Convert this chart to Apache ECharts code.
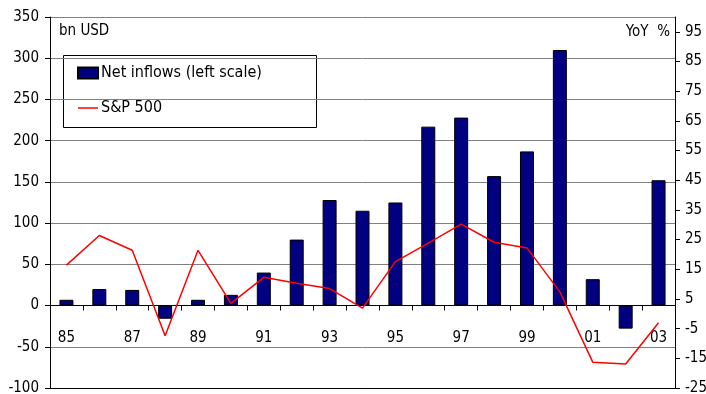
<!DOCTYPE html>
<html>
<head>
<meta charset="utf-8">
<script src="https://cdn.jsdelivr.net/npm/echarts@6/dist/echarts.min.js"></script>
<style>
  html, body { margin: 0; padding: 0; background: #fff; }
  #chart { width: 706px; height: 394px; }
</style>
</head>
<body>
<div id="chart"></div>
<script>
// Years shown along the category axis
const years = ['85','86','87','88','89','90','91','92','93','94','95','96','97','98','99','00','01','02','03'];
// Net inflows, bn USD (left scale)
const netInflows = [7, 20, 19, -16, 7, 13, 40, 80, 128, 115, 125, 217, 228, 157, 187, 310, 32, -28, 152];
// S&P 500, YoY % (right scale)
const spYoY = [16.4, 26.4, 21.4, -7.4, 21.4, 3.5, 12.3, 10.3, 8.5, 1.9, 17.6, 23.8, 30.2, 24.1, 22.2, 7.4, -16.3, -16.9, -3.0];
// Right-hand tick labels
const rightTicks = [-25, -15, -5, 5, 15, 25, 35, 45, 55, 65, 75, 85, 95];

const FONT = '"Liberation Sans Narrow", "Arial Narrow", "DejaVu Sans Condensed", sans-serif';

const chart = echarts.init(document.getElementById('chart'), null, { renderer: 'canvas' });

chart.setOption({
  animation: false,
  backgroundColor: '#fff',
  textStyle: { fontFamily: FONT, color: '#000' },
  grid: { left: 50, right: 31, top: 17, bottom: 6, containLabel: false, outerBoundsMode: 'none' },
  xAxis: [
    {
      // year axis: line and ticks sit on the zero of the left scale
      type: 'category',
      data: years,
      axisLine: { onZero: true, onZeroAxisIndex: 0, lineStyle: { color: '#000', width: 1 } },
      axisTick: { show: true, length: 5, interval: 0, lineStyle: { color: '#000' } },
      axisLabel: { show: true, interval: 1, margin: -57, fontSize: 15, color: '#000', fontFamily: FONT },
      splitLine: { show: false }
    },
    {
      // plain frame line along the bottom of the plot
      type: 'category',
      data: years,
      position: 'bottom',
      axisLine: { onZero: false, lineStyle: { color: '#000', width: 1 } },
      axisTick: { show: false },
      axisLabel: { show: false },
      splitLine: { show: false }
    }
  ],
  yAxis: [
    {
      type: 'value',
      min: -100,
      max: 350,
      interval: 50,
      position: 'left',
      axisLine: { show: true, lineStyle: { color: '#000', width: 1 } },
      axisTick: { show: true, length: 5, lineStyle: { color: '#000' } },
      axisLabel: { margin: 11, fontSize: 15, color: '#000', fontFamily: FONT },
      splitLine: { show: true, lineStyle: { color: '#808080', width: 1 } }
    },
    {
      type: 'value',
      min: -25,
      max: 100,
      position: 'right',
      axisLine: { show: true, lineStyle: { color: '#000', width: 1 } },
      axisTick: { show: true, length: 5, customValues: rightTicks, lineStyle: { color: '#000' } },
      axisLabel: { margin: 10, fontSize: 15, color: '#000', fontFamily: FONT, customValues: rightTicks },
      splitLine: { show: false }
    }
  ],
  legend: {
    show: true,
    orient: 'vertical',
    left: 77,
    top: 65,
    itemWidth: 20,
    itemHeight: 11,
    itemGap: 19,
    padding: 0,
    textStyle: { fontSize: 16, color: '#000', fontFamily: FONT, padding: [0, 0, 0, -2] },
    data: [
      { name: 'Net inflows (left scale)', icon: 'rect' },
      { name: 'S&P 500', icon: 'path://M0,0 L20,0 L20,1.5 L0,1.5 Z' }
    ]
  },
  graphic: [
    {
      type: 'rect',
      z: -1,
      shape: { x: 63.5, y: 55.5, width: 253, height: 72 },
      style: { fill: '#fff', stroke: '#000', lineWidth: 1 }
    },
    {
      type: 'text',
      left: 59,
      top: 24,
      style: { text: 'bn USD', font: '15px ' + FONT, fill: '#000' }
    },
    {
      type: 'text',
      right: 36,
      top: 25,
      style: { text: 'YoY  %', font: '15px ' + FONT, fill: '#000', textAlign: 'right' }
    }
  ],
  series: [
    {
      name: 'Net inflows (left scale)',
      type: 'bar',
      xAxisIndex: 0,
      yAxisIndex: 0,
      data: netInflows,
      barWidth: 14,
      itemStyle: { color: '#000080', borderColor: '#000', borderWidth: 1 },
      z: 2
    },
    {
      name: 'S&P 500',
      type: 'line',
      xAxisIndex: 0,
      yAxisIndex: 1,
      data: spYoY,
      symbol: 'none',
      lineStyle: { color: '#ff0000', width: 1.5 },
      itemStyle: { color: '#ff0000' },
      z: 3
    }
  ]
});
</script>
</body>
</html>
